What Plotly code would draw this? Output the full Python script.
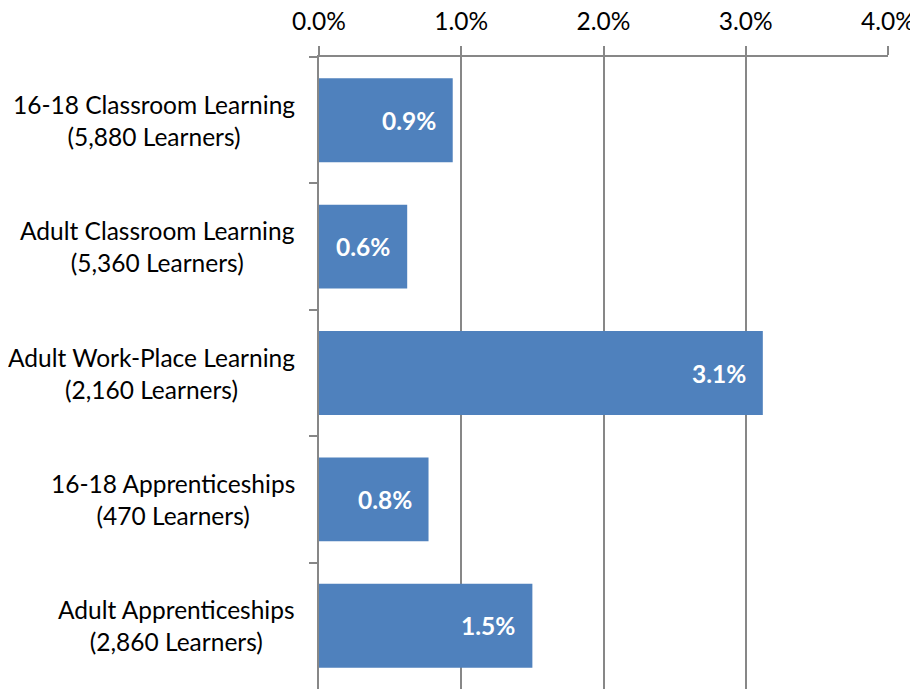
import plotly.graph_objects as go

categories = [
    "16-18 Classroom Learning<br>(5,880 Learners)",
    "Adult Classroom Learning<br>(5,360 Learners)",
    "Adult Work-Place Learning<br>(2,160 Learners)",
    "16-18 Apprenticeships<br>(470 Learners)",
    "Adult Apprenticeships<br>(2,860 Learners)",
]
values = [0.94, 0.62, 3.12, 0.77, 1.50]  # percent
x_ticks = [0, 1, 2, 3, 4]
x_tick_labels = ["0.0%", "1.0%", "2.0%", "3.0%", "4.0%"]

FONT = "Lato"
GRID = "#878787"
BAR = "#4F81BD"

fig = go.Figure()
fig.add_trace(go.Bar(
    x=values, y=categories, orientation="h",
    marker=dict(color=BAR, line=dict(width=0)),
    hoverinfo="skip",
))

annotations = []
for c, v in zip(categories, values):
    annotations.append(dict(
        x=v, y=c, xref="x", yref="y", xanchor="right", yanchor="middle",
        xshift=-15, text=f"<b>{v:.1f}%</b>", showarrow=False,
        font=dict(family=FONT, size=24.5, color="white"),
    ))
    annotations.append(dict(
        x=0, y=c, xref="paper", yref="y", xanchor="right", yanchor="middle",
        xshift=-22, text=c, showarrow=False, align="center",
        font=dict(family=FONT, size=24.5, color="black"),
    ))

# page body has an 8px default margin, so the figure is sized/offset to compensate
fig.update_layout(
    width=910, height=681,
    margin=dict(l=311, r=30, t=49, b=0, pad=0),
    paper_bgcolor="white", plot_bgcolor="white",
    showlegend=False,
    bargap=0.336,
    annotations=annotations,
    xaxis=dict(
        side="top", range=[0, 4], tickvals=x_ticks, ticktext=x_tick_labels,
        showgrid=True, gridcolor=GRID, gridwidth=1.5,
        showline=True, linecolor=GRID, linewidth=1.5,
        ticks="outside", ticklen=9, tickcolor=GRID, tickwidth=1.5,
        tickfont=dict(family=FONT, size=24.5, color="black"),
        ticklabelstandoff=6,
        zeroline=False, fixedrange=True, automargin=False,
    ),
    yaxis=dict(
        categoryorder="array", categoryarray=categories, autorange="reversed",
        showticklabels=False, showgrid=False, zeroline=False,
        showline=True, linecolor=GRID, linewidth=1.5,
        ticks="outside", ticklen=8, tickcolor=GRID, tickwidth=1.5,
        tickson="boundaries", fixedrange=True, automargin=False,
    ),
)

fig.write_html("out.html")
